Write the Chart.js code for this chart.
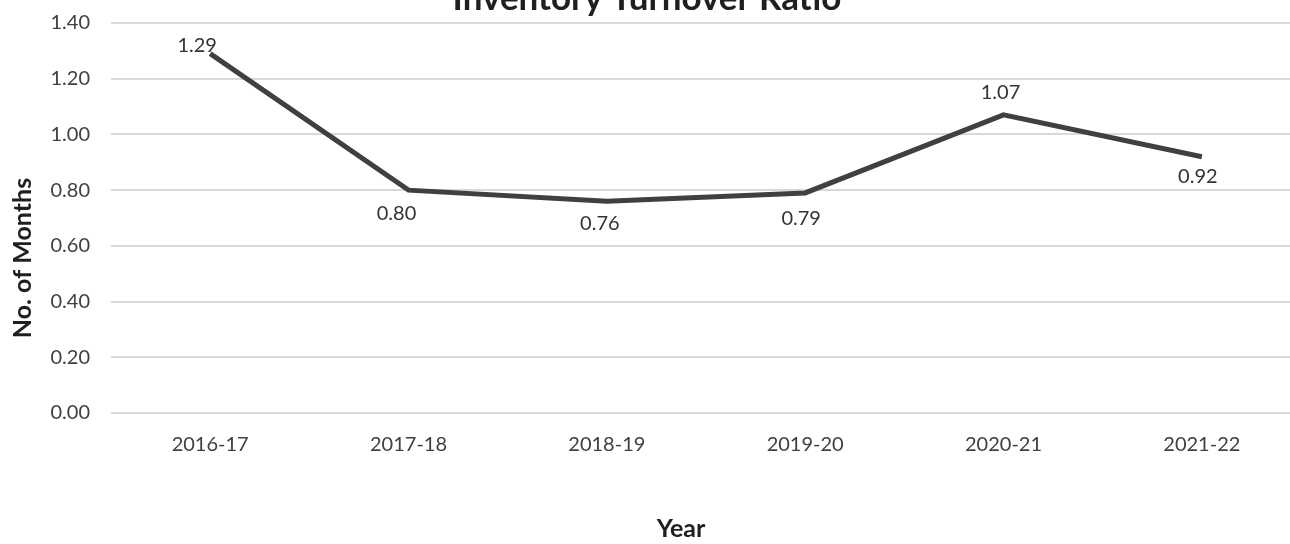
<!DOCTYPE html>
<html>
<head>
<meta charset="utf-8">
<title>Inventory Turnover Ratio</title>
<script src="https://cdn.jsdelivr.net/npm/chart.js@4.4.1/dist/chart.umd.min.js"></script>
<style>
  html, body { margin: 0; padding: 0; background: #ffffff; overflow: hidden; }
  #wrap { position: absolute; left: 0; top: 0; width: 1310px; height: 544px; }
</style>
</head>
<body>
<div id="wrap"><canvas id="chart" width="1310" height="544"></canvas></div>
<script>
// Financial years and the inventory turnover ratio for each
const years = ['2016-17', '2017-18', '2018-19', '2019-20', '2020-21', '2021-22'];
const turnover = [1.29, 0.80, 0.76, 0.79, 1.07, 0.92];

// Value-axis ticks
const yTicks = [0.00, 0.20, 0.40, 0.60, 0.80, 1.00, 1.20, 1.40];

const chartTitle = 'Inventory Turnover Ratio';
const xTitle = 'Year';
const yTitle = 'No. of Months';

const FONT = 'Lato, "Open Sans", "Liberation Sans", sans-serif';

// Where each value label sits relative to its point
const labelOffsets = [[-13, -8], [-12, 23], [-7, 22], [-4, 26], [-3, -22], [-4, 20]];

const valueLabels = {
  id: 'valueLabels',
  afterDatasetsDraw(chart) {
    const ctx = chart.ctx;
    const meta = chart.getDatasetMeta(0);
    ctx.save();
    ctx.font = '20px ' + FONT;
    ctx.fillStyle = '#333333';
    ctx.textAlign = 'center';
    ctx.textBaseline = 'middle';
    meta.data.forEach((pt, i) => {
      const v = chart.data.datasets[0].data[i];
      const off = labelOffsets[i];
      ctx.fillText(v.toFixed(2), pt.x + off[0], pt.y + off[1]);
    });
    ctx.restore();
  }
};

const titles = {
  id: 'titles',
  afterDraw(chart) {
    const ctx = chart.ctx;
    ctx.save();
    ctx.fillStyle = '#1f1f1f';
    ctx.textAlign = 'center';
    ctx.textBaseline = 'alphabetic';
    ctx.font = 'bold 35px ' + FONT;
    ctx.fillText(chartTitle, 647, 10);

    ctx.textBaseline = 'middle';
    ctx.font = 'bold 25px ' + FONT;
    ctx.fillText(xTitle, 681, 529);

    ctx.translate(23, 258);
    ctx.rotate(-Math.PI / 2);
    ctx.fillText(yTitle, 0, 0);
    ctx.restore();
  }
};

new Chart(document.getElementById('chart'), {
  type: 'line',
  data: {
    labels: years,
    datasets: [{
      data: turnover,
      borderColor: '#404040',
      borderWidth: 5,
      pointRadius: 0,
      pointHoverRadius: 0,
      tension: 0,
      fill: false
    }]
  },
  options: {
    responsive: false,
    animation: false,
    devicePixelRatio: 1,
    layout: { padding: { left: 0, right: 9, top: 23, bottom: 0 } },
    plugins: {
      legend: { display: false },
      title: { display: false },
      tooltip: { enabled: false }
    },
    scales: {
      x: {
        offset: true,
        grid: { display: false, drawTicks: false },
        border: { display: false },
        ticks: {
          color: '#404040',
          font: { family: FONT, size: 20 },
          padding: 20,
          maxRotation: 0
        },
        afterFit(scale) { scale.height = 131; }
      },
      y: {
        min: 0,
        max: 1.4,
        afterBuildTicks(scale) { scale.ticks = yTicks.map(v => ({ value: v })); },
        grid: { color: '#d9d9d9', lineWidth: 2, drawTicks: false },
        border: { display: false },
        ticks: {
          color: '#404040',
          font: { family: FONT, size: 20 },
          padding: 21,
          callback: v => Number(v).toFixed(2)
        },
        afterFit(scale) {
          scale.width = 111;
          scale.paddingTop = 0;
          scale.paddingBottom = 0;
        }
      }
    }
  },
  plugins: [valueLabels, titles]
});
</script>
</body>
</html>
